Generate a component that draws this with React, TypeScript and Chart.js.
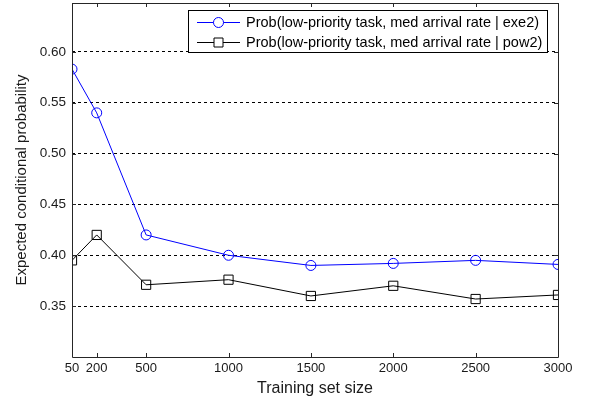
import React, { useEffect, useRef } from 'react';
import { Chart, registerables } from 'chart.js';

Chart.register(...registerables);

const trainingSizes = [50, 200, 500, 1000, 1500, 2000, 2500, 3000];
const exe2Values = [0.583, 0.540, 0.420, 0.400, 0.390, 0.392, 0.395, 0.391];
const pow2Values = [0.395, 0.420, 0.371, 0.376, 0.360, 0.370, 0.357, 0.361];
const xTickValues = [50, 200, 500, 1000, 1500, 2000, 2500, 3000];
const yTickValues = [0.35, 0.40, 0.45, 0.50, 0.55, 0.60];
const seriesLabels = [
  'Prob(low-priority task, med arrival rate | exe2)',
  'Prob(low-priority task, med arrival rate | pow2)',
];
const xTitle = 'Training set size';
const yTitle = 'Expected conditional probability';

const FONT = 'Arial, "Liberation Sans", sans-serif';
const TEXT_COLOR = '#1a1a1a';
const FRAME_COLOR = '#262626';

const framePlugin = {
  id: 'matlabFrame',
  afterDatasetsDraw(chart: any) {
    const { ctx, chartArea } = chart;
    const { left, right, top, bottom } = chartArea;
    const xs = chart.scales.x;
    const ys = chart.scales.y;
    ctx.save();
    ctx.setLineDash([]);
    ctx.strokeStyle = FRAME_COLOR;
    ctx.lineWidth = 1;
    ctx.beginPath();
    ctx.rect(Math.round(left) + 0.5, Math.round(top) + 0.5, Math.round(right - left), Math.round(bottom - top));
    ctx.stroke();
    const tl = 4;
    ctx.beginPath();
    for (const v of xTickValues) {
      const px = Math.round(xs.getPixelForValue(v)) + 0.5;
      ctx.moveTo(px, bottom);
      ctx.lineTo(px, bottom - tl);
      ctx.moveTo(px, top);
      ctx.lineTo(px, top + tl);
    }
    for (const v of yTickValues) {
      const py = Math.round(ys.getPixelForValue(v)) + 0.5;
      ctx.moveTo(left, py);
      ctx.lineTo(left + tl, py);
      ctx.moveTo(right, py);
      ctx.lineTo(right - tl, py);
    }
    ctx.stroke();
    ctx.restore();
  },
  afterDraw(chart: any) {
    const { ctx } = chart;
    const bx = 188.5, by = 10.5, bw = 359, bh = 42;
    ctx.save();
    ctx.setLineDash([]);
    ctx.fillStyle = '#ffffff';
    ctx.fillRect(bx, by, bw, bh);
    ctx.strokeStyle = '#000000';
    ctx.lineWidth = 1;
    ctx.strokeRect(bx, by, bw, bh);
    const rows = [22, 42];
    chart.data.datasets.forEach((ds: any, i: number) => {
      const y = rows[i] + 0.5;
      ctx.strokeStyle = ds.borderColor;
      ctx.lineWidth = 1;
      ctx.beginPath();
      ctx.moveTo(197, y);
      ctx.lineTo(240, y);
      ctx.stroke();
      ctx.beginPath();
      if (ds.pointStyle === 'circle') {
        ctx.arc(218.5, y, 5, 0, Math.PI * 2);
      } else {
        ctx.rect(214, y - 4.5, 9, 9);
      }
      ctx.fillStyle = '#ffffff';
      ctx.fill();
      ctx.stroke();
      ctx.fillStyle = '#000000';
      ctx.font = `14.5px ${FONT}`;
      ctx.textBaseline = 'middle';
      ctx.textAlign = 'left';
      ctx.fillText(ds.label, 246, y);
    });
    ctx.restore();
  },
};

export default function App() {
  const canvasRef = useRef<HTMLCanvasElement | null>(null);

  useEffect(() => {
    if (!canvasRef.current) return;
    const chart = new Chart(canvasRef.current, {
      type: 'line',
      data: {
        datasets: [
          {
            label: seriesLabels[0],
            data: trainingSizes.map((x, i) => ({ x, y: exe2Values[i] })),
            borderColor: '#0000ff',
            backgroundColor: '#ffffff',
            borderWidth: 1,
            pointStyle: 'circle',
            pointRadius: 5,
            pointBorderWidth: 1,
            pointBackgroundColor: 'rgba(255,255,255,0)',
            pointBorderColor: '#0000ff',
            tension: 0,
          },
          {
            label: seriesLabels[1],
            data: trainingSizes.map((x, i) => ({ x, y: pow2Values[i] })),
            borderColor: '#000000',
            backgroundColor: '#ffffff',
            borderWidth: 1,
            pointStyle: 'rect',
            pointRadius: 6.5,
            pointBorderWidth: 1,
            pointBackgroundColor: 'rgba(255,255,255,0)',
            pointBorderColor: '#000000',
            tension: 0,
          },
        ],
      },
      options: {
        responsive: false,
        animation: false,
        layout: { autoPadding: false, padding: { top: 3, right: 31, left: 0, bottom: 0 } },
        plugins: {
          legend: { display: false },
          tooltip: { enabled: false },
        },
        scales: {
          x: {
            type: 'linear',
            min: 50,
            max: 3000,
            afterBuildTicks: (scale: any) => {
              scale.ticks = xTickValues.map((v) => ({ value: v }));
            },
            afterFit: (scale: any) => {
              scale.height = 44;
              scale.paddingLeft = 0;
              scale.paddingRight = 0;
              scale.paddingTop = 0;
              scale.paddingBottom = 0;
            },
            grid: { display: false, drawTicks: false },
            border: { display: false },
            ticks: {
              padding: 4,
              color: TEXT_COLOR,
              font: { family: FONT, size: 13 },
              maxRotation: 0,
              autoSkip: false,
              callback: (v: any) => String(v),
            },
            title: {
              display: true,
              text: xTitle,
              color: TEXT_COLOR,
              font: { family: FONT, size: 16 },
              padding: { top: 0, bottom: 3 },
            },
          },
          y: {
            type: 'linear',
            min: 0.3,
            max: 0.648,
            afterBuildTicks: (scale: any) => {
              scale.ticks = yTickValues.map((v) => ({ value: v }));
            },
            afterFit: (scale: any) => {
              scale.width = 72;
              scale.paddingLeft = 0;
              scale.paddingRight = 0;
              scale.paddingTop = 0;
              scale.paddingBottom = 0;
            },
            grid: { display: true, drawTicks: false, color: '#000000', lineWidth: 1 },
            border: { display: false, dash: [3, 3] },
            ticks: {
              padding: 6,
              color: TEXT_COLOR,
              font: { family: FONT, size: 13.5 },
              autoSkip: false,
              callback: (v: any) => Number(v).toFixed(2),
            },
            title: {
              display: true,
              text: yTitle,
              color: TEXT_COLOR,
              font: { family: FONT, size: 15 },
              padding: { top: 13, bottom: 0 },
            },
          },
        },
      },
      plugins: [framePlugin],
    });
    return () => chart.destroy();
  }, []);

  return (
    <div style={{ position: 'fixed', left: 0, top: 0, width: 589, height: 401, background: '#ffffff' }}>
      <canvas ref={canvasRef} width={589} height={401} style={{ display: 'block' }} />
    </div>
  );
}
